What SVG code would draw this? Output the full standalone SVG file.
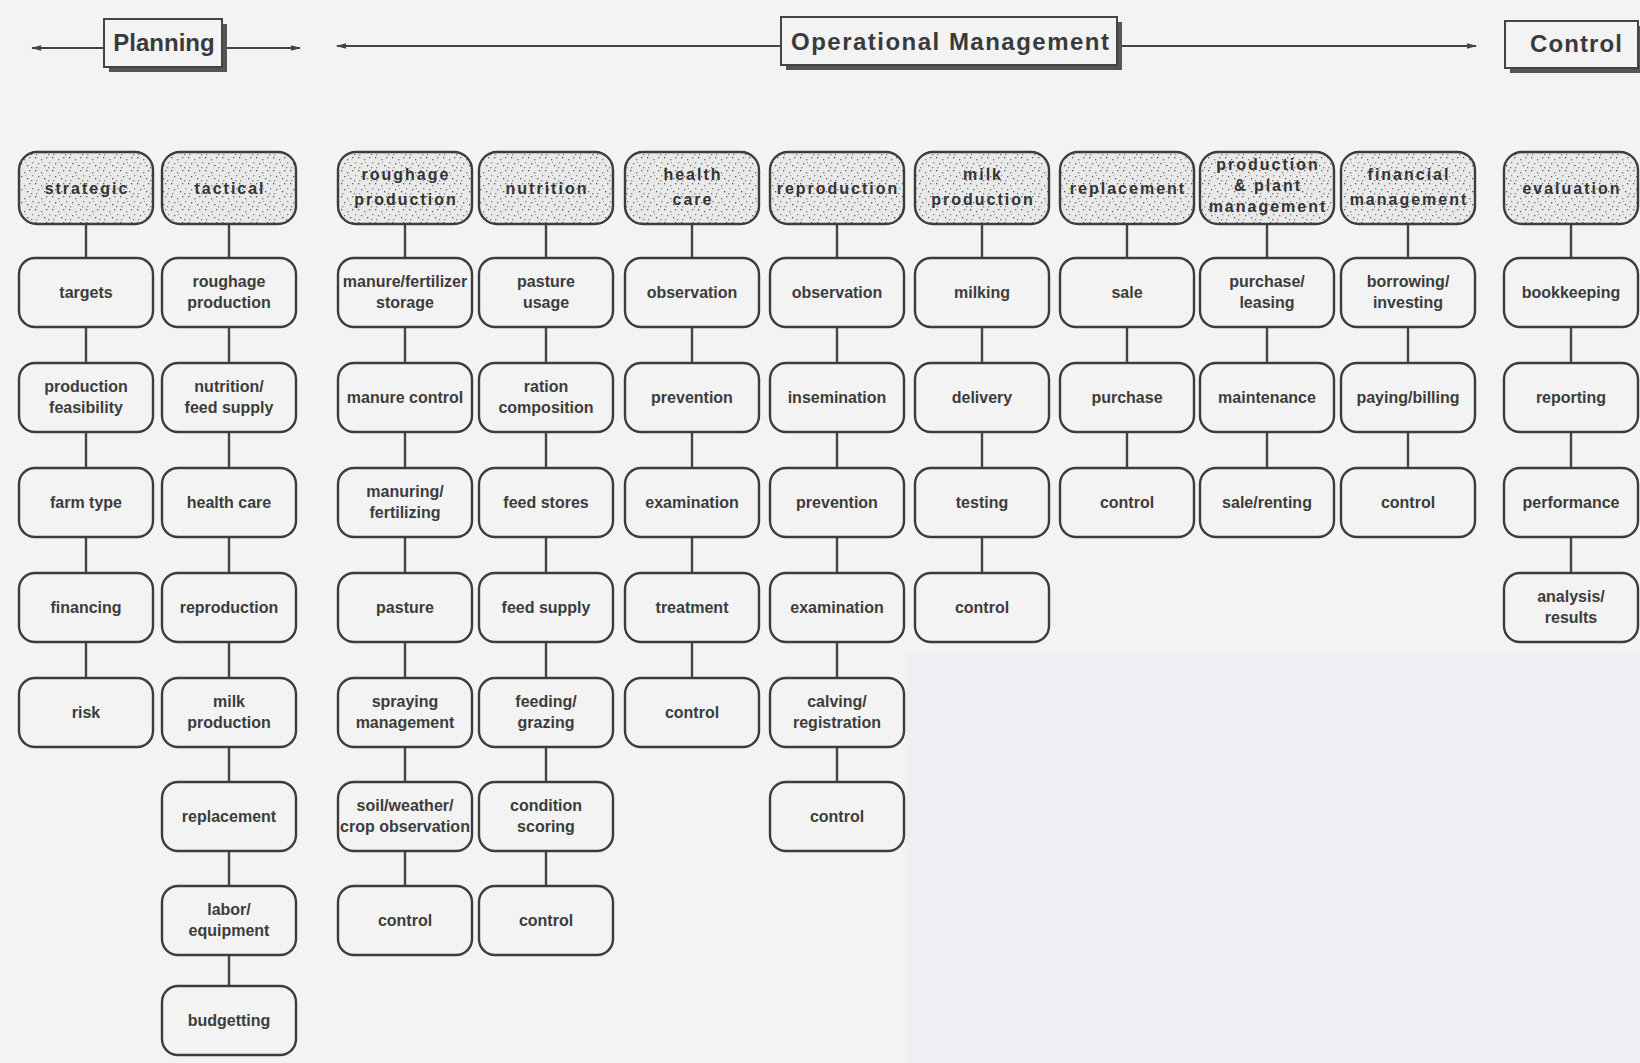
<svg xmlns="http://www.w3.org/2000/svg" width="1640" height="1063" viewBox="0 0 1640 1063">
<defs>
<pattern id="stip" width="17" height="13" patternUnits="userSpaceOnUse">
<rect width="17" height="13" fill="#e9e9e9"/>
<rect x="1" y="1" width="1.3" height="1.3" fill="#555"/>
<rect x="7" y="3" width="1.3" height="1.3" fill="#777"/>
<rect x="12" y="1" width="1.3" height="1.3" fill="#666"/>
<rect x="4" y="7" width="1.3" height="1.3" fill="#666"/>
<rect x="10" y="9" width="1.3" height="1.3" fill="#555"/>
<rect x="15" y="6" width="1.3" height="1.3" fill="#888"/>
<rect x="2" y="11" width="1.3" height="1.3" fill="#888"/>
<rect x="14" y="11" width="1.3" height="1.3" fill="#777"/>
<rect x="8" y="6" width="1" height="1" fill="#999"/>
</pattern>
<marker id="arr" viewBox="0 0 10 10" refX="9" refY="5" markerWidth="10" markerHeight="7" orient="auto-start-reverse" markerUnits="userSpaceOnUse" preserveAspectRatio="none">
<path d="M0 1 L10 5 L0 9 Z" fill="#444"/>
</marker>
<style>
.bg{fill:#f3f3f3}
.tint{fill:#eeeef3}
.box{fill:#f3f3f3;stroke:#3c3c3c;stroke-width:2.4}
.hdr{fill:url(#stip);stroke:#3c3c3c;stroke-width:2.4}
.tbox{fill:#f3f3f3;stroke:#444;stroke-width:2}
.shadow{fill:#555}
.conn{fill:none;stroke:#444;stroke-width:2.4}
.arrow{fill:none;stroke:#444;stroke-width:2}
.t{font-family:"Liberation Sans",Arial,Helvetica,sans-serif;font-weight:bold;font-size:16px;fill:#3c3c3c;text-anchor:middle}
.h{font-family:"Liberation Sans",Arial,Helvetica,sans-serif;font-weight:bold;font-size:16px;fill:#333;text-anchor:middle;letter-spacing:2px}
.title{font-family:"Liberation Sans",Arial,Helvetica,sans-serif;font-weight:bold;font-size:24px;fill:#3a3a3a;text-anchor:middle}
</style>
</defs>
<rect class="bg" x="0" y="0" width="1640" height="1063"/>
<rect class="tint" x="905" y="652" width="735" height="411"/>

<g id="connectors">
<path class="arrow" d="M104 48H32" marker-end="url(#arr)"/>
<path class="arrow" d="M222 48H300" marker-end="url(#arr)"/>
<path class="arrow" d="M781 46H337" marker-end="url(#arr)"/>
<path class="arrow" d="M1117 46H1476" marker-end="url(#arr)"/>
<path class="conn" d="M86 224V258M86 327V363M86 432V468M86 537V573M86 642V678"/>
<path class="conn" d="M229 224V258M229 327V363M229 432V468M229 537V573M229 642V678M229 747V782M229 851V886M229 955V986"/>
<path class="conn" d="M405 224V258M405 327V363M405 432V468M405 537V573M405 642V678M405 747V782M405 851V886"/>
<path class="conn" d="M546 224V258M546 327V363M546 432V468M546 537V573M546 642V678M546 747V782M546 851V886"/>
<path class="conn" d="M692 224V258M692 327V363M692 432V468M692 537V573M692 642V678"/>
<path class="conn" d="M837 224V258M837 327V363M837 432V468M837 537V573M837 642V678M837 747V782"/>
<path class="conn" d="M982 224V258M982 327V363M982 432V468M982 537V573"/>
<path class="conn" d="M1127 224V258M1127 327V363M1127 432V468"/>
<path class="conn" d="M1267 224V258M1267 327V363M1267 432V468"/>
<path class="conn" d="M1408 224V258M1408 327V363M1408 432V468"/>
<path class="conn" d="M1571 224V258M1571 327V363M1571 432V468M1571 537V573"/>
</g>

<g id="title-planning">
<rect class="shadow" x="109" y="24" width="118" height="48"/>
<rect class="tbox" x="104" y="19" width="118" height="48"/>
<text class="title" x="164" y="51">Planning</text>
</g>
<g id="title-operational">
<rect class="shadow" x="786" y="22" width="336" height="48"/>
<rect class="tbox" x="781" y="17" width="336" height="48"/>
<text class="title" x="950" y="50" textLength="318" lengthAdjust="spacing">Operational Management</text>
</g>
<g id="title-control">
<rect class="shadow" x="1510" y="26" width="133" height="47"/>
<rect class="tbox" x="1505" y="21" width="133" height="47"/>
<text class="title" x="1576" y="52" textLength="92" lengthAdjust="spacing">Control</text>
</g>

<!-- column 1: strategic -->
<g id="strategic"><rect class="hdr" x="19" y="152" width="134" height="72" rx="18"/><text class="h" x="87" y="194">strategic</text></g>
<g id="targets"><rect class="box" x="19" y="258" width="134" height="69" rx="16"/><text class="t" x="86" y="297.5">targets</text></g>
<g id="production-feasibility"><rect class="box" x="19" y="363" width="134" height="69" rx="16"/><text class="t" x="86" y="392">production</text><text class="t" x="86" y="413">feasibility</text></g>
<g id="farm-type"><rect class="box" x="19" y="468" width="134" height="69" rx="16"/><text class="t" x="86" y="507.5">farm type</text></g>
<g id="financing"><rect class="box" x="19" y="573" width="134" height="69" rx="16"/><text class="t" x="86" y="612.5">financing</text></g>
<g id="risk"><rect class="box" x="19" y="678" width="134" height="69" rx="16"/><text class="t" x="86" y="717.5">risk</text></g>

<!-- column 2: tactical -->
<g id="tactical"><rect class="hdr" x="162" y="152" width="134" height="72" rx="18"/><text class="h" x="230" y="194">tactical</text></g>
<g id="t-roughage"><rect class="box" x="162" y="258" width="134" height="69" rx="16"/><text class="t" x="229" y="287">roughage</text><text class="t" x="229" y="308">production</text></g>
<g id="t-nutrition"><rect class="box" x="162" y="363" width="134" height="69" rx="16"/><text class="t" x="229" y="392">nutrition/</text><text class="t" x="229" y="413">feed supply</text></g>
<g id="t-health"><rect class="box" x="162" y="468" width="134" height="69" rx="16"/><text class="t" x="229" y="507.5">health care</text></g>
<g id="t-reproduction"><rect class="box" x="162" y="573" width="134" height="69" rx="16"/><text class="t" x="229" y="612.5">reproduction</text></g>
<g id="t-milk"><rect class="box" x="162" y="678" width="134" height="69" rx="16"/><text class="t" x="229" y="707">milk</text><text class="t" x="229" y="728">production</text></g>
<g id="t-replacement"><rect class="box" x="162" y="782" width="134" height="69" rx="16"/><text class="t" x="229" y="821.5">replacement</text></g>
<g id="t-labor"><rect class="box" x="162" y="886" width="134" height="69" rx="16"/><text class="t" x="229" y="915">labor/</text><text class="t" x="229" y="936">equipment</text></g>
<g id="t-budgetting"><rect class="box" x="162" y="986" width="134" height="69" rx="16"/><text class="t" x="229" y="1025.5">budgetting</text></g>

<!-- column 3: roughage production -->
<g id="roughage-production"><rect class="hdr" x="338" y="152" width="134" height="72" rx="18"/><text class="h" x="406" y="180">roughage</text><text class="h" x="406" y="205">production</text></g>
<g id="r-storage"><rect class="box" x="338" y="258" width="134" height="69" rx="16"/><text class="t" x="405" y="287">manure/fertilizer</text><text class="t" x="405" y="308">storage</text></g>
<g id="r-manure-control"><rect class="box" x="338" y="363" width="134" height="69" rx="16"/><text class="t" x="405" y="402.5">manure control</text></g>
<g id="r-manuring"><rect class="box" x="338" y="468" width="134" height="69" rx="16"/><text class="t" x="405" y="497">manuring/</text><text class="t" x="405" y="518">fertilizing</text></g>
<g id="r-pasture"><rect class="box" x="338" y="573" width="134" height="69" rx="16"/><text class="t" x="405" y="612.5">pasture</text></g>
<g id="r-spraying"><rect class="box" x="338" y="678" width="134" height="69" rx="16"/><text class="t" x="405" y="707">spraying</text><text class="t" x="405" y="728">management</text></g>
<g id="r-soil"><rect class="box" x="338" y="782" width="134" height="69" rx="16"/><text class="t" x="405" y="811">soil/weather/</text><text class="t" x="405" y="832">crop observation</text></g>
<g id="r-control"><rect class="box" x="338" y="886" width="134" height="69" rx="16"/><text class="t" x="405" y="925.5">control</text></g>

<!-- column 4: nutrition -->
<g id="nutrition"><rect class="hdr" x="479" y="152" width="134" height="72" rx="18"/><text class="h" x="547" y="194">nutrition</text></g>
<g id="n-pasture"><rect class="box" x="479" y="258" width="134" height="69" rx="16"/><text class="t" x="546" y="287">pasture</text><text class="t" x="546" y="308">usage</text></g>
<g id="n-ration"><rect class="box" x="479" y="363" width="134" height="69" rx="16"/><text class="t" x="546" y="392">ration</text><text class="t" x="546" y="413">composition</text></g>
<g id="n-stores"><rect class="box" x="479" y="468" width="134" height="69" rx="16"/><text class="t" x="546" y="507.5">feed stores</text></g>
<g id="n-supply"><rect class="box" x="479" y="573" width="134" height="69" rx="16"/><text class="t" x="546" y="612.5">feed supply</text></g>
<g id="n-feeding"><rect class="box" x="479" y="678" width="134" height="69" rx="16"/><text class="t" x="546" y="707">feeding/</text><text class="t" x="546" y="728">grazing</text></g>
<g id="n-condition"><rect class="box" x="479" y="782" width="134" height="69" rx="16"/><text class="t" x="546" y="811">condition</text><text class="t" x="546" y="832">scoring</text></g>
<g id="n-control"><rect class="box" x="479" y="886" width="134" height="69" rx="16"/><text class="t" x="546" y="925.5">control</text></g>

<!-- column 5: health care -->
<g id="health-care"><rect class="hdr" x="625" y="152" width="134" height="72" rx="18"/><text class="h" x="693" y="180">health</text><text class="h" x="693" y="205">care</text></g>
<g id="h-observation"><rect class="box" x="625" y="258" width="134" height="69" rx="16"/><text class="t" x="692" y="297.5">observation</text></g>
<g id="h-prevention"><rect class="box" x="625" y="363" width="134" height="69" rx="16"/><text class="t" x="692" y="402.5">prevention</text></g>
<g id="h-examination"><rect class="box" x="625" y="468" width="134" height="69" rx="16"/><text class="t" x="692" y="507.5">examination</text></g>
<g id="h-treatment"><rect class="box" x="625" y="573" width="134" height="69" rx="16"/><text class="t" x="692" y="612.5">treatment</text></g>
<g id="h-control"><rect class="box" x="625" y="678" width="134" height="69" rx="16"/><text class="t" x="692" y="717.5">control</text></g>

<!-- column 6: reproduction -->
<g id="reproduction"><rect class="hdr" x="770" y="152" width="134" height="72" rx="18"/><text class="h" x="838" y="194">reproduction</text></g>
<g id="p-observation"><rect class="box" x="770" y="258" width="134" height="69" rx="16"/><text class="t" x="837" y="297.5">observation</text></g>
<g id="p-insemination"><rect class="box" x="770" y="363" width="134" height="69" rx="16"/><text class="t" x="837" y="402.5">insemination</text></g>
<g id="p-prevention"><rect class="box" x="770" y="468" width="134" height="69" rx="16"/><text class="t" x="837" y="507.5">prevention</text></g>
<g id="p-examination"><rect class="box" x="770" y="573" width="134" height="69" rx="16"/><text class="t" x="837" y="612.5">examination</text></g>
<g id="p-calving"><rect class="box" x="770" y="678" width="134" height="69" rx="16"/><text class="t" x="837" y="707">calving/</text><text class="t" x="837" y="728">registration</text></g>
<g id="p-control"><rect class="box" x="770" y="782" width="134" height="69" rx="16"/><text class="t" x="837" y="821.5">control</text></g>

<!-- column 7: milk production -->
<g id="milk-production"><rect class="hdr" x="915" y="152" width="134" height="72" rx="18"/><text class="h" x="983" y="180">milk</text><text class="h" x="983" y="205">production</text></g>
<g id="m-milking"><rect class="box" x="915" y="258" width="134" height="69" rx="16"/><text class="t" x="982" y="297.5">milking</text></g>
<g id="m-delivery"><rect class="box" x="915" y="363" width="134" height="69" rx="16"/><text class="t" x="982" y="402.5">delivery</text></g>
<g id="m-testing"><rect class="box" x="915" y="468" width="134" height="69" rx="16"/><text class="t" x="982" y="507.5">testing</text></g>
<g id="m-control"><rect class="box" x="915" y="573" width="134" height="69" rx="16"/><text class="t" x="982" y="612.5">control</text></g>

<!-- column 8: replacement -->
<g id="replacement"><rect class="hdr" x="1060" y="152" width="134" height="72" rx="18"/><text class="h" x="1128" y="194">replacement</text></g>
<g id="rp-sale"><rect class="box" x="1060" y="258" width="134" height="69" rx="16"/><text class="t" x="1127" y="297.5">sale</text></g>
<g id="rp-purchase"><rect class="box" x="1060" y="363" width="134" height="69" rx="16"/><text class="t" x="1127" y="402.5">purchase</text></g>
<g id="rp-control"><rect class="box" x="1060" y="468" width="134" height="69" rx="16"/><text class="t" x="1127" y="507.5">control</text></g>

<!-- column 9: production & plant management -->
<g id="plant-management"><rect class="hdr" x="1200" y="152" width="134" height="72" rx="18"/><text class="h" x="1268" y="170">production</text><text class="h" x="1268" y="191">&amp; plant</text><text class="h" x="1268" y="212">management</text></g>
<g id="pl-purchase"><rect class="box" x="1200" y="258" width="134" height="69" rx="16"/><text class="t" x="1267" y="287">purchase/</text><text class="t" x="1267" y="308">leasing</text></g>
<g id="pl-maintenance"><rect class="box" x="1200" y="363" width="134" height="69" rx="16"/><text class="t" x="1267" y="402.5">maintenance</text></g>
<g id="pl-sale"><rect class="box" x="1200" y="468" width="134" height="69" rx="16"/><text class="t" x="1267" y="507.5">sale/renting</text></g>

<!-- column 10: financial management -->
<g id="financial-management"><rect class="hdr" x="1341" y="152" width="134" height="72" rx="18"/><text class="h" x="1409" y="180">financial</text><text class="h" x="1409" y="205">management</text></g>
<g id="f-borrowing"><rect class="box" x="1341" y="258" width="134" height="69" rx="16"/><text class="t" x="1408" y="287">borrowing/</text><text class="t" x="1408" y="308">investing</text></g>
<g id="f-paying"><rect class="box" x="1341" y="363" width="134" height="69" rx="16"/><text class="t" x="1408" y="402.5">paying/billing</text></g>
<g id="f-control"><rect class="box" x="1341" y="468" width="134" height="69" rx="16"/><text class="t" x="1408" y="507.5">control</text></g>

<!-- column 11: evaluation -->
<g id="evaluation"><rect class="hdr" x="1504" y="152" width="134" height="72" rx="18"/><text class="h" x="1572" y="194">evaluation</text></g>
<g id="e-bookkeeping"><rect class="box" x="1504" y="258" width="134" height="69" rx="16"/><text class="t" x="1571" y="297.5">bookkeeping</text></g>
<g id="e-reporting"><rect class="box" x="1504" y="363" width="134" height="69" rx="16"/><text class="t" x="1571" y="402.5">reporting</text></g>
<g id="e-performance"><rect class="box" x="1504" y="468" width="134" height="69" rx="16"/><text class="t" x="1571" y="507.5">performance</text></g>
<g id="e-analysis"><rect class="box" x="1504" y="573" width="134" height="69" rx="16"/><text class="t" x="1571" y="602">analysis/</text><text class="t" x="1571" y="623">results</text></g>
</svg>
